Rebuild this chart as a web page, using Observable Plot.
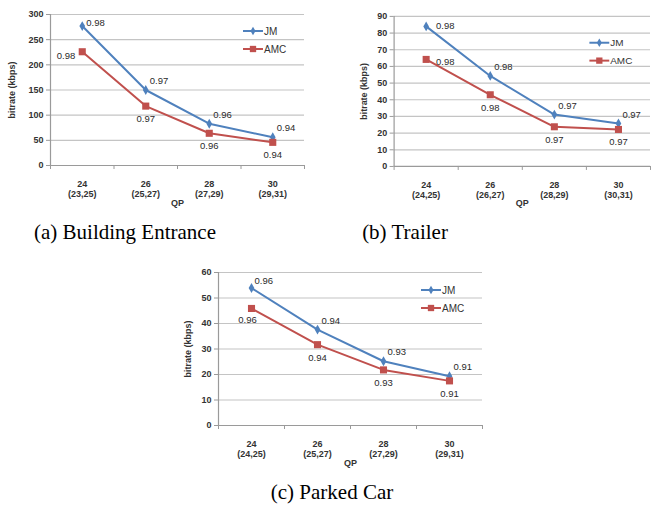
<!DOCTYPE html>
<html><head><meta charset="utf-8">
<script src="https://cdn.jsdelivr.net/npm/d3@7"></script>
<script src="https://cdn.jsdelivr.net/npm/@observablehq/plot@0.6"></script>
<style>
html,body{margin:0;padding:0;background:#fff}
body{width:652px;height:508px;position:relative;overflow:hidden}
.panel{position:absolute}
.cap{position:absolute;font-family:"Liberation Serif","Times New Roman",serif;font-size:21px;line-height:24px;color:#000;white-space:nowrap;transform:translateX(-50%)}
</style></head><body>
<div id="pa" class="panel" style="left:0;top:0"></div>
<div id="pb" class="panel" style="left:330px;top:0"></div>
<div id="pc" class="panel" style="left:160px;top:255px"></div>
<div class="cap" style="left:125px;top:220px">(a) Building Entrance</div>
<div class="cap" style="left:405px;top:220px">(b) Trailer</div>
<div class="cap" style="left:332px;top:480px">(c) Parked Car</div>
<script>
// ---- data ----
const qp = ["24", "26", "28", "30"];
const seriesNames = ["JM", "AMC"];

const rangesA = ["(23,25)", "(25,27)", "(27,29)", "(29,31)"];
const jmA = [277, 150, 83, 56];
const amcA = [226, 118, 64, 46];
const jmLabelsA = ["0.98", "0.97", "0.96", "0.94"];
const amcLabelsA = ["0.98", "0.97", "0.96", "0.94"];
const yTicksA = [0, 50, 100, 150, 200, 250, 300];

const rangesB = ["(24,25)", "(26,27)", "(28,29)", "(30,31)"];
const jmB = [84, 54.3, 31.1, 25.8];
const amcB = [64.2, 43, 23.8, 22.2];
const jmLabelsB = ["0.98", "0.98", "0.97", "0.97"];
const amcLabelsB = ["0.98", "0.98", "0.97", "0.97"];
const yTicksB = [0, 10, 20, 30, 40, 50, 60, 70, 80, 90];

const rangesC = ["(24,25)", "(25,27)", "(27,29)", "(29,31)"];
const jmC = [53.9, 37.6, 25.2, 19.3];
const amcC = [45.9, 31.7, 21.8, 17.5];
const jmLabelsC = ["0.96", "0.94", "0.93", "0.91"];
const amcLabelsC = ["0.96", "0.94", "0.93", "0.91"];
const yTicksC = [0, 10, 20, 30, 40, 50, 60];

const BLUE = "#4F81BD", RED = "#C0504D";
const AXIS = "#9a9a9a", GRID = "#c4c4c4", TXT = "#333";

function panel(cfg) {
  const jmRows = qp.map((q, i) => ({i, v: cfg.jm[i], lbl: cfg.jmLbl[i]}));
  const amcRows = qp.map((q, i) => ({i, v: cfg.amc[i], lbl: cfg.amcLbl[i]}));
  const yMax = cfg.yTicks[cfg.yTicks.length - 1];
  const edges = [-0.5, 0.5, 1.5, 2.5, 3.5];
  const font = {fontFamily: "Liberation Sans, Arial, sans-serif", fontSize: 9.5, fill: "#2a2a2a"};
  const jmFirst = jmRows.slice(0, 1), jmRest = jmRows.slice(1);
  const amcFirst = amcRows.slice(0, 1), amcRest = amcRows.slice(1);
  const svg = Plot.plot({
    width: cfg.width, height: cfg.height,
    marginLeft: cfg.ml, marginRight: cfg.mr, marginTop: cfg.mt, marginBottom: cfg.mb,
    style: {background: "#fff", fontFamily: "Liberation Sans, Arial, sans-serif", fontSize: "9px", color: TXT, overflow: "visible"},
    x: {type: "linear", domain: [-0.5, 3.5]},
    y: {domain: [0, yMax]},
    marks: [
      Plot.gridY(cfg.yTicks.filter(t => t > 0), {stroke: GRID, strokeOpacity: 1, strokeWidth: 1.2}),
      Plot.ruleX([-0.5], {stroke: AXIS, strokeWidth: 1.2}),
      Plot.ruleY([0], {stroke: AXIS, strokeWidth: 1.2}),
      Plot.axisY(cfg.yTicks, {tickSize: 4, tickPadding: 3, stroke: AXIS, fill: TXT, fontWeight: "bold",
        label: "bitrate (kbps)", labelAnchor: "center", labelArrow: "none", labelOffset: cfg.ylo}),
      Plot.axisX(edges, {tickSize: 4, stroke: AXIS, tickFormat: () => "", label: null}),
      Plot.axisX([0, 1, 2, 3], {tickSize: 0, tickPadding: 14, fill: TXT, fontWeight: "bold", lineHeight: 1.15,
        tickFormat: i => qp[i] + "\n" + cfg.ranges[i],
        label: "QP", labelAnchor: "center", labelArrow: "none", labelOffset: 40}),
      Plot.line(jmRows, {x: "i", y: "v", stroke: BLUE, strokeWidth: 2}),
      Plot.line(amcRows, {x: "i", y: "v", stroke: RED, strokeWidth: 2}),
      Plot.dot(jmRows, {x: "i", y: "v", symbol: "diamond", fill: BLUE, r: 3}),
      Plot.dot(amcRows, {x: "i", y: "v", symbol: "square", fill: RED, r: 4}),
      Plot.text(jmFirst, {x: "i", y: "v", text: "lbl", textAnchor: "start", dx: cfg.first.jdx, dy: cfg.first.jdy, ...font}),
      Plot.text(jmRest, {x: "i", y: "v", text: "lbl", textAnchor: "start", dx: 4, dy: -9, ...font}),
      Plot.text(amcFirst, {x: "i", y: "v", text: "lbl", textAnchor: cfg.first.aAnchor, dx: cfg.first.adx, dy: cfg.first.ady, ...font}),
      Plot.text(amcRest, {x: "i", y: "v", text: "lbl", textAnchor: "middle", dy: 13, ...font})
    ]
  });
  // legend inside the plot area, top-right
  const right = cfg.width - cfg.mr;
  const g = d3.select(svg).append("g")
    .attr("font-family", "Liberation Sans, Arial, sans-serif")
    .attr("font-size", 10).attr("text-anchor", "start");
  seriesNames.forEach((name, k) => {
    const y = cfg.mt + cfg.legTop + k * 18;
    const col = k === 0 ? BLUE : RED;
    g.append("line").attr("x1", right - 61).attr("x2", right - 41).attr("y1", y).attr("y2", y).attr("stroke", col).attr("stroke-width", 2);
    const sym = d3.symbol(k === 0 ? d3.symbolDiamond : d3.symbolSquare, k === 0 ? 22 : 40)();
    g.append("path").attr("d", sym).attr("transform", `translate(${right - 51},${y})`).attr("fill", col);
    g.append("text").attr("x", right - 40).attr("y", y).attr("dy", "0.35em").attr("fill", TXT).text(name);
  });
  return svg;
}

document.getElementById("pa").append(panel({
  jm: jmA, amc: amcA, jmLbl: jmLabelsA, amcLbl: amcLabelsA, ranges: rangesA, yTicks: yTicksA,
  width: 320, height: 210, ml: 50, mr: 16, mt: 14, mb: 45, ylo: 42, legTop: 17,
  first: {jdx: 4, jdy: -3, aAnchor: "end", adx: -7, ady: 4}
}));
document.getElementById("pb").append(panel({
  jm: jmB, amc: amcB, jmLbl: jmLabelsB, amcLbl: amcLabelsB, ranges: rangesB, yTicks: yTicksB,
  width: 324, height: 212, ml: 64, mr: 2, mt: 16, mb: 45, ylo: 34, legTop: 27,
  first: {jdx: 10, jdy: 0, aAnchor: "start", adx: 10, ady: 3}
}));
document.getElementById("pc").append(panel({
  jm: jmC, amc: amcC, jmLbl: jmLabelsC, amcLbl: amcLabelsC, ranges: rangesC, yTicks: yTicksC,
  width: 340, height: 215, ml: 58, mr: 18, mt: 17, mb: 45, ylo: 34, legTop: 18,
  first: {jdx: 3, jdy: -7, aAnchor: "middle", adx: -4, ady: 11}
}));
</script>
</body></html>
